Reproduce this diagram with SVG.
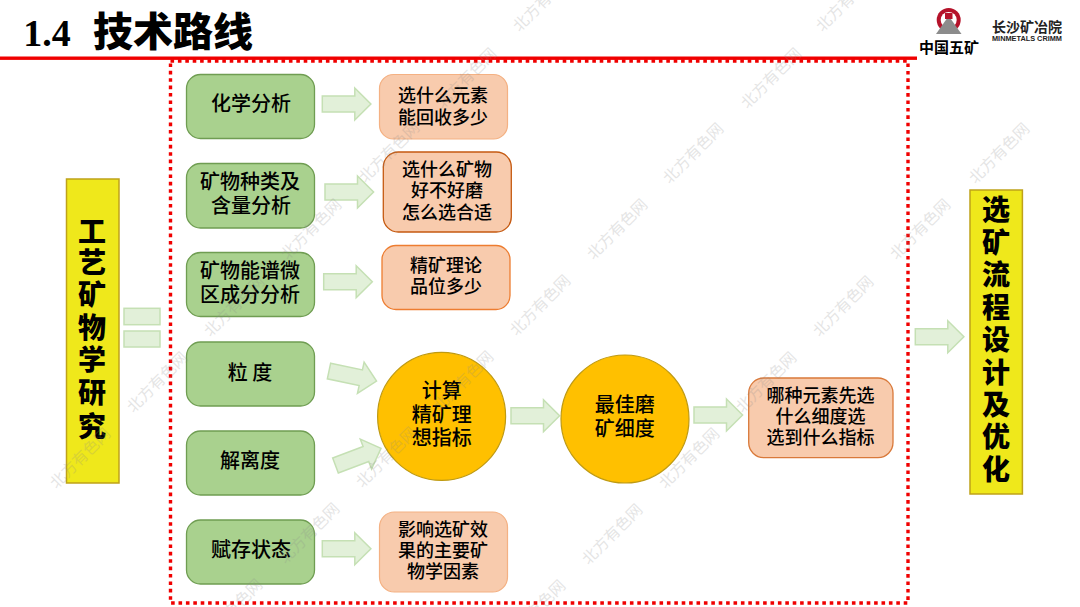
<svg xmlns="http://www.w3.org/2000/svg" xmlns:xlink="http://www.w3.org/1999/xlink" width="1080" height="607" viewBox="0 0 1080 607">
<style>
text{font-family:"Noto Sans CJK SC","Liberation Sans",sans-serif;text-anchor:middle;fill:#000}
.g{fill:#A9D18E;stroke:#6F9D52;stroke-width:1.3}
.o{fill:#F8CBAD;stroke:#F4B183;stroke-width:1.2}
.d{fill:#F8CBAD;stroke:#C55A11;stroke-width:1.3}
.c{fill:#FFC000;stroke:#BF9A12;stroke-width:1.2}
.y{fill:#EFE81B;stroke:#BFA21A;stroke-width:1.5}
.a{fill:#E2F0D9;stroke:#C5E0B4;stroke-width:1.5}
.t20{font-size:20px;font-weight:500}
.t18{font-size:18px;font-weight:500}
.t30{font-size:28px;font-weight:900}
.w{font-size:15.5px;fill:#8a8a8a;opacity:.22}
</style>
<defs>
<path id="arrow" class="a" d="M0-8H32.5V-16L48.6 0 32.5 16V8H0Z"/>
<text id="wm" class="w" transform="rotate(-45)">北方有色网</text>
</defs>
<rect width="1080" height="607" fill="#fff"/>
<g id="title">
<text x="47" y="46" style="font-family:'Liberation Serif',serif;font-size:38px;font-weight:700">1.4</text>
<text x="173" y="46" style="font-size:40px;font-weight:900">技术路线</text>
</g>
<rect id="frame" x="170.5" y="61" width="737.5" height="542" fill="none" stroke="#F00000" stroke-width="3.4" stroke-dasharray="3.6 3.8"/>
<rect id="rule" x="0" y="56.5" width="917" height="3.4" fill="#F00000"/>
<g id="logo">
<circle cx="948.7" cy="20" r="12" fill="#B5122A"/>
<circle cx="948.7" cy="20" r="8" fill="#fff"/>
<path d="M948.7 16 L961.5 34H936Z" fill="#8c8c8c"/>
<rect x="945" y="13" width="7.5" height="6" fill="#B5122A"/>
<text x="949" y="52.5" style="font-size:15px;font-weight:700">中国五矿</text>
<text x="1027" y="32" style="font-size:14px;font-weight:700;fill:#222">长沙矿冶院</text>
<text x="1027" y="41" textLength="70" lengthAdjust="spacingAndGlyphs" style="font-family:'Liberation Sans',sans-serif;font-size:7.5px;font-weight:700;fill:#222">MINMETALS CRIMM</text>
</g>
<g id="connectors">
<rect class="a" x="124" y="308.3" width="36" height="16.4"/>
<rect class="a" x="124" y="331" width="36" height="16"/>
<use href="#arrow" transform="translate(322.3 104)"/>
<use href="#arrow" transform="translate(325 192)"/>
<use href="#arrow" transform="translate(323.7 281.7)"/>
<use href="#arrow" transform="translate(322.3 548.7)"/>
<use href="#arrow" transform="translate(329 371) rotate(12)"/>
<use href="#arrow" transform="translate(335.5 465.5) rotate(-20.6)"/>
<use href="#arrow" transform="translate(511 415.7)"/>
<use href="#arrow" transform="translate(694 415)"/>
<use href="#arrow" transform="translate(915.3 336.7)"/>
</g>
<g id="n-left"><rect class="y" x="66.5" y="179" width="52.5" height="304"/>
<text class="t30" x="92" y="242">工</text><text class="t30" x="92" y="273">艺</text><text class="t30" x="92" y="305">矿</text><text class="t30" x="92" y="338">物</text><text class="t30" x="92" y="370">学</text><text class="t30" x="92" y="403">研</text><text class="t30" x="92" y="437">究</text></g>
<g id="n-right"><rect class="y" x="970" y="190" width="52.4" height="304"/>
<text class="t30" x="996" y="220">选</text><text class="t30" x="996" y="253">矿</text><text class="t30" x="996" y="285">流</text><text class="t30" x="996" y="318">程</text><text class="t30" x="996" y="350">设</text><text class="t30" x="996" y="383">计</text><text class="t30" x="996" y="415">及</text><text class="t30" x="996" y="447">优</text><text class="t30" x="996" y="480">化</text></g>
<g id="n1"><rect class="g" x="186.5" y="74.5" width="128" height="64" rx="14"/><text class="t20" x="251" y="111">化学分析</text></g>
<g id="n2"><rect class="g" x="186.5" y="163.5" width="128" height="64.5" rx="14"/><text class="t20" x="250" y="189">矿物种类及</text><text class="t20" x="251" y="213">含量分析</text></g>
<g id="n3"><rect class="g" x="186.5" y="252.5" width="128" height="64" rx="14"/><text class="t20" x="250" y="278">矿物能谱微</text><text class="t20" x="250" y="302">区成分分析</text></g>
<g id="n4"><rect class="g" x="186.5" y="342" width="128" height="64" rx="14"/><text class="t20" x="250" y="379.5">粒 度</text></g>
<g id="n5"><rect class="g" x="186.5" y="431" width="128" height="64" rx="14"/><text class="t20" x="250" y="468">解离度</text></g>
<g id="n6"><rect class="g" x="186.5" y="520" width="128" height="64" rx="14"/><text class="t20" x="251" y="557">赋存状态</text></g>
<g id="r1"><rect class="o" x="379.5" y="74.5" width="128" height="64.5" rx="14"/><text class="t18" x="443" y="101.5">选什么元素</text><text class="t18" x="443" y="123.5">能回收多少</text></g>
<g id="r2"><rect class="d" x="383.3" y="152" width="128" height="80" rx="15"/><text class="t18" x="447" y="175.5">选什么矿物</text><text class="t18" x="447" y="197">好不好磨</text><text class="t18" x="447" y="218.5">怎么选合适</text></g>
<g id="r3"><rect class="d" x="382" y="245.5" width="128" height="64" rx="14" style="stroke:#ED7D31"/><text class="t18" x="446" y="272">精矿理论</text><text class="t18" x="446" y="293">品位多少</text></g>
<g id="r6"><rect class="o" x="379.5" y="512" width="128" height="80" rx="15"/><text class="t18" x="443" y="535.5">影响选矿效</text><text class="t18" x="443" y="557">果的主要矿</text><text class="t18" x="443" y="578">物学因素</text></g>
<g id="c1"><circle class="c" cx="441.6" cy="416.4" r="64"/><text class="t20" x="441.8" y="398">计算</text><text class="t20" x="441.8" y="422">精矿理</text><text class="t20" x="441.8" y="445">想指标</text></g>
<g id="c2"><circle class="c" cx="625" cy="419" r="64"/><text class="t20" x="624.7" y="412">最佳磨</text><text class="t20" x="624.7" y="436">矿细度</text></g>
<g id="r7"><rect class="d" x="748.7" y="378" width="144.3" height="79.6" rx="15" style="stroke:#D9793A"/><text class="t18" x="820.6" y="401.5">哪种元素先选</text><text class="t18" x="820.6" y="423">什么细度选</text><text class="t18" x="820.6" y="444">选到什么指标</text></g>
<g id="watermarks">
<use href="#wm" transform="translate(84 462)"/><use href="#wm" transform="translate(161 386)"/><use href="#wm" transform="translate(238 310)"/><use href="#wm" transform="translate(315 233)"/><use href="#wm" transform="translate(393 156)"/><use href="#wm" transform="translate(470 82)"/><use href="#wm" transform="translate(547 5)"/>
<use href="#wm" transform="translate(236 613)"/><use href="#wm" transform="translate(313 537)"/><use href="#wm" transform="translate(390 461)"/><use href="#wm" transform="translate(467 385)"/><use href="#wm" transform="translate(544 309)"/><use href="#wm" transform="translate(621 233)"/><use href="#wm" transform="translate(697 157)"/><use href="#wm" transform="translate(775 82)"/><use href="#wm" transform="translate(850 5)"/>
<use href="#wm" transform="translate(539 614)"/><use href="#wm" transform="translate(616 538)"/><use href="#wm" transform="translate(693 462)"/><use href="#wm" transform="translate(770 386)"/><use href="#wm" transform="translate(847 310)"/><use href="#wm" transform="translate(924 233)"/><use href="#wm" transform="translate(1003 157)"/>
</g>
</svg>
